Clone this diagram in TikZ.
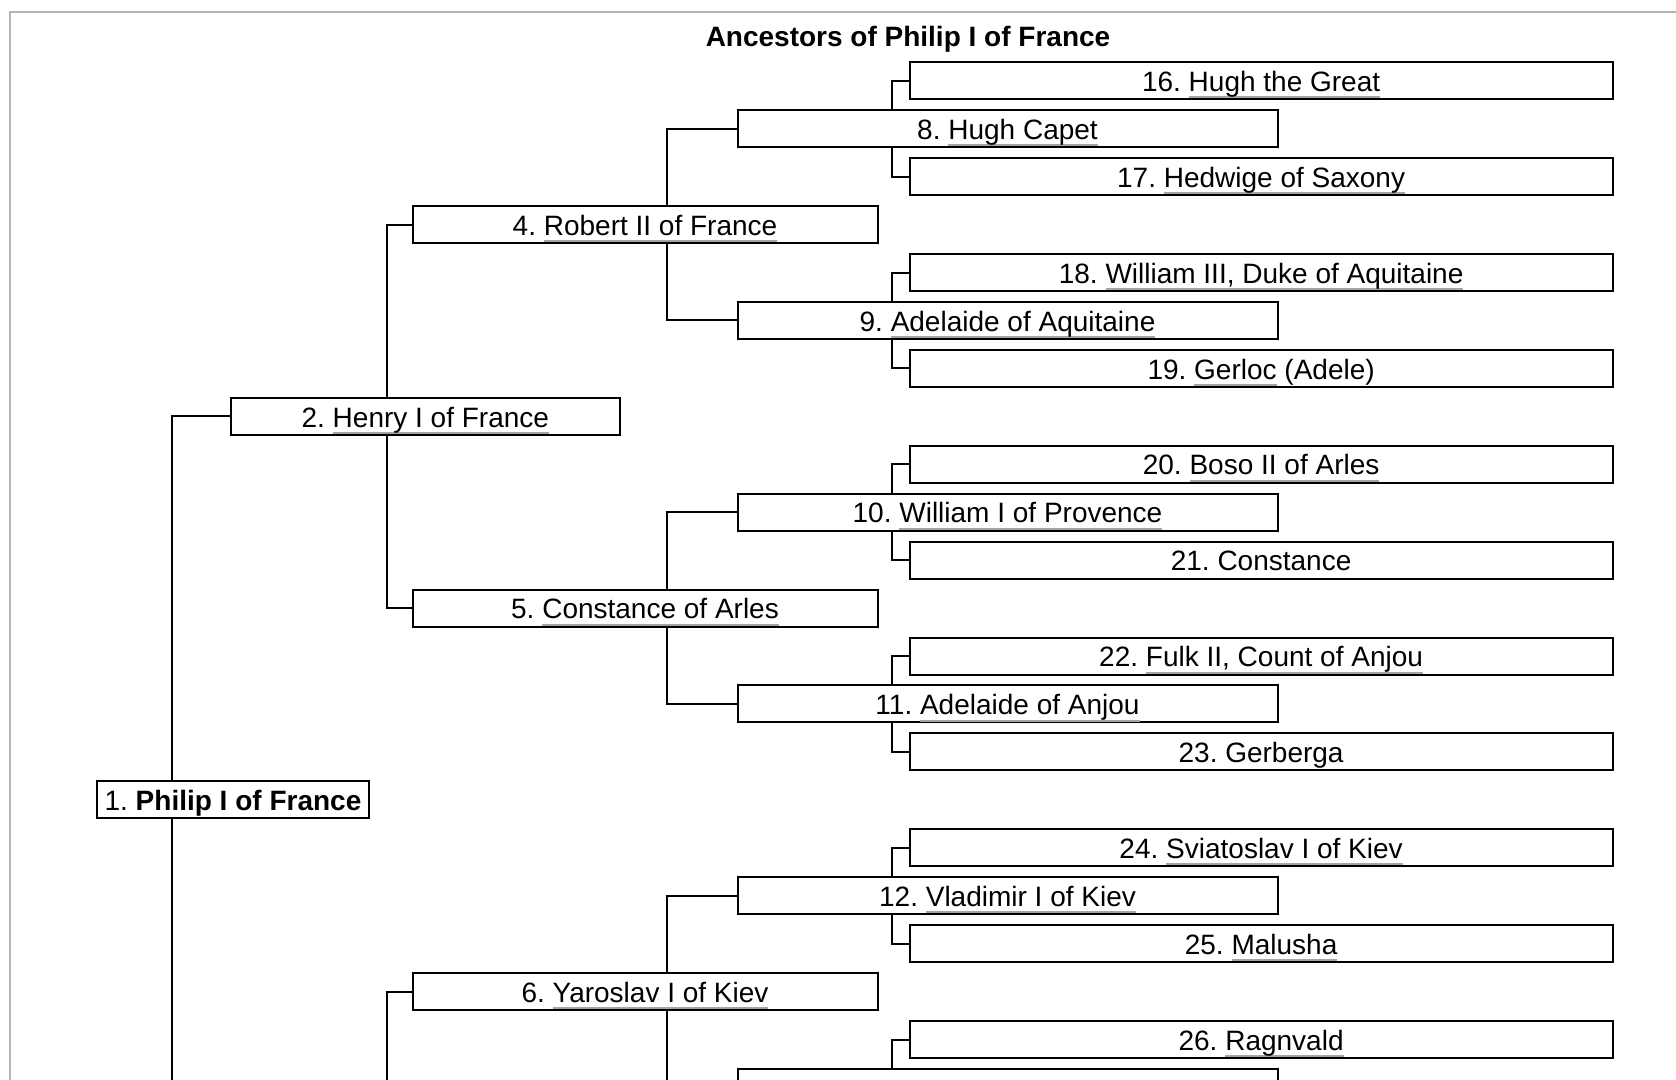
\documentclass[tikz,border=0pt]{standalone}
\usepackage{fontspec}
\setmainfont{Liberation Sans}
\frenchspacing
\definecolor{framegray}{RGB}{180,180,180}
\definecolor{ulgray}{RGB}{165,165,165}
\newsavebox\lnkbox
\newcommand\lnk[1]{\sbox\lnkbox{#1}\rlap{\textcolor{ulgray}{\rule[-7pt]{\wd\lnkbox}{2pt}}}\usebox\lnkbox}
\pgfdeclarelayer{bg}
\pgfsetlayers{bg,main}
\begin{document}
\begin{tikzpicture}[x=1pt,y=-1pt,
  font=\fontsize{28}{33}\selectfont,
  person/.style={draw, line width=2pt, fill=white, inner sep=0pt, minimum height=37pt,
    text height=21.5pt, text depth=0pt, anchor=west},
  gone/.style={person, minimum width=271.5pt},
  gtwo/.style={person, minimum width=389pt},
  gthree/.style={person, minimum width=465pt},
  gfour/.style={person, minimum width=540pt},
  gfive/.style={person, minimum width=703pt},
  conn/.style={line width=2pt}]
\useasboundingbox (0,0) rectangle (1676,1079);
\clip (0,0) rectangle (1676,1079);

\node[font=\fontsize{28}{33}\selectfont\bfseries, inner sep=0pt, text height=21pt, text depth=0pt] (title) at (908,36) {Ancestors of Philip I of France};

% generation 5
\node[gfive] (n16) at (908.6,80.7) {16. \lnk{Hugh the Great}};
\node[gfive] (n17) at (908.6,176.6) {17. \lnk{Hedwige of Saxony}};
\node[gfive] (n18) at (908.6,272.5) {18. \lnk{William III, Duke of Aquitaine}};
\node[gfive] (n19) at (908.6,368.3) {19. \lnk{Gerloc} (Adele)};
\node[gfive] (n20) at (908.6,464.2) {20. \lnk{Boso II of Arles}};
\node[gfive] (n21) at (908.6,560.1) {21. Constance};
\node[gfive] (n22) at (908.6,656.0) {22. \lnk{Fulk II, Count of Anjou}};
\node[gfive] (n23) at (908.6,751.9) {23. Gerberga};
\node[gfive] (n24) at (908.6,847.7) {24. \lnk{Sviatoslav I of Kiev}};
\node[gfive] (n25) at (908.6,943.6) {25. \lnk{Malusha}};
\node[gfive] (n26) at (908.6,1039.5) {26. \lnk{Ragnvald}};
\coordinate (c27) at (908.6,1135.4);

% generation 4
\node[gfour] (n8) at (736.5,128.6) {8. \lnk{Hugh Capet}};
\node[gfour] (n9) at (736.5,320.4) {9. \lnk{Adelaide of Aquitaine}};
\node[gfour] (n10) at (736.5,512.2) {10. \lnk{William I of Provence}};
\node[gfour] (n11) at (736.5,703.9) {11. \lnk{Adelaide of Anjou}};
\node[gfour] (n12) at (736.5,895.7) {12. \lnk{Vladimir I of Kiev}};
\node[gfour] (n13) at (736.5,1087.4) {};

% generation 3
\node[gthree] (n4) at (411.5,224.5) {4. \lnk{Robert II of France}};
\node[gthree] (n5) at (411.5,608.0) {5. \lnk{Constance of Arles}};
\node[gthree] (n6) at (411.5,991.6) {6. \lnk{Yaroslav I of Kiev}};
\coordinate (c7) at (411.5,1375);

% generation 2
\node[gtwo] (n2) at (229.8,416.3) {2. \lnk{Henry I of France}};
\coordinate (c3) at (229.8,1183.3);

% generation 1
\node[gone] (n1) at (96.2,799.8) {1. \textbf{Philip I of France}};

\begin{pgfonlayer}{bg}
\clip (0,0) rectangle (1676,1079);
\fill[white] (0,0) rectangle (1676,1079);
\draw[framegray, line width=1.6pt] (10,1100) -- (10,12) -- (1700,12);
% from 1
\draw[conn] (n2.west) -- ++(-57.7,0) |- (c3);
% from 2 and 3
\draw[conn] (n4.west) -- ++(-24.5,0) |- (n5.west);
\draw[conn] (n6.west) -- ++(-24.5,0) |- (c7);
% from 4,5,6
\draw[conn] (n8.west) -- ++(-69.5,0) |- (n9.west);
\draw[conn] (n10.west) -- ++(-69.5,0) |- (n11.west);
\draw[conn] (n12.west) -- ++(-69.5,0) |- (n13.west);
% from 8..13
\draw[conn] (n16.west) -- ++(-17.1,0) |- (n17.west);
\draw[conn] (n18.west) -- ++(-17.1,0) |- (n19.west);
\draw[conn] (n20.west) -- ++(-17.1,0) |- (n21.west);
\draw[conn] (n22.west) -- ++(-17.1,0) |- (n23.west);
\draw[conn] (n24.west) -- ++(-17.1,0) |- (n25.west);
\draw[conn] (n26.west) -- ++(-17.1,0) |- (c27);
\end{pgfonlayer}
\end{tikzpicture}
\end{document}
